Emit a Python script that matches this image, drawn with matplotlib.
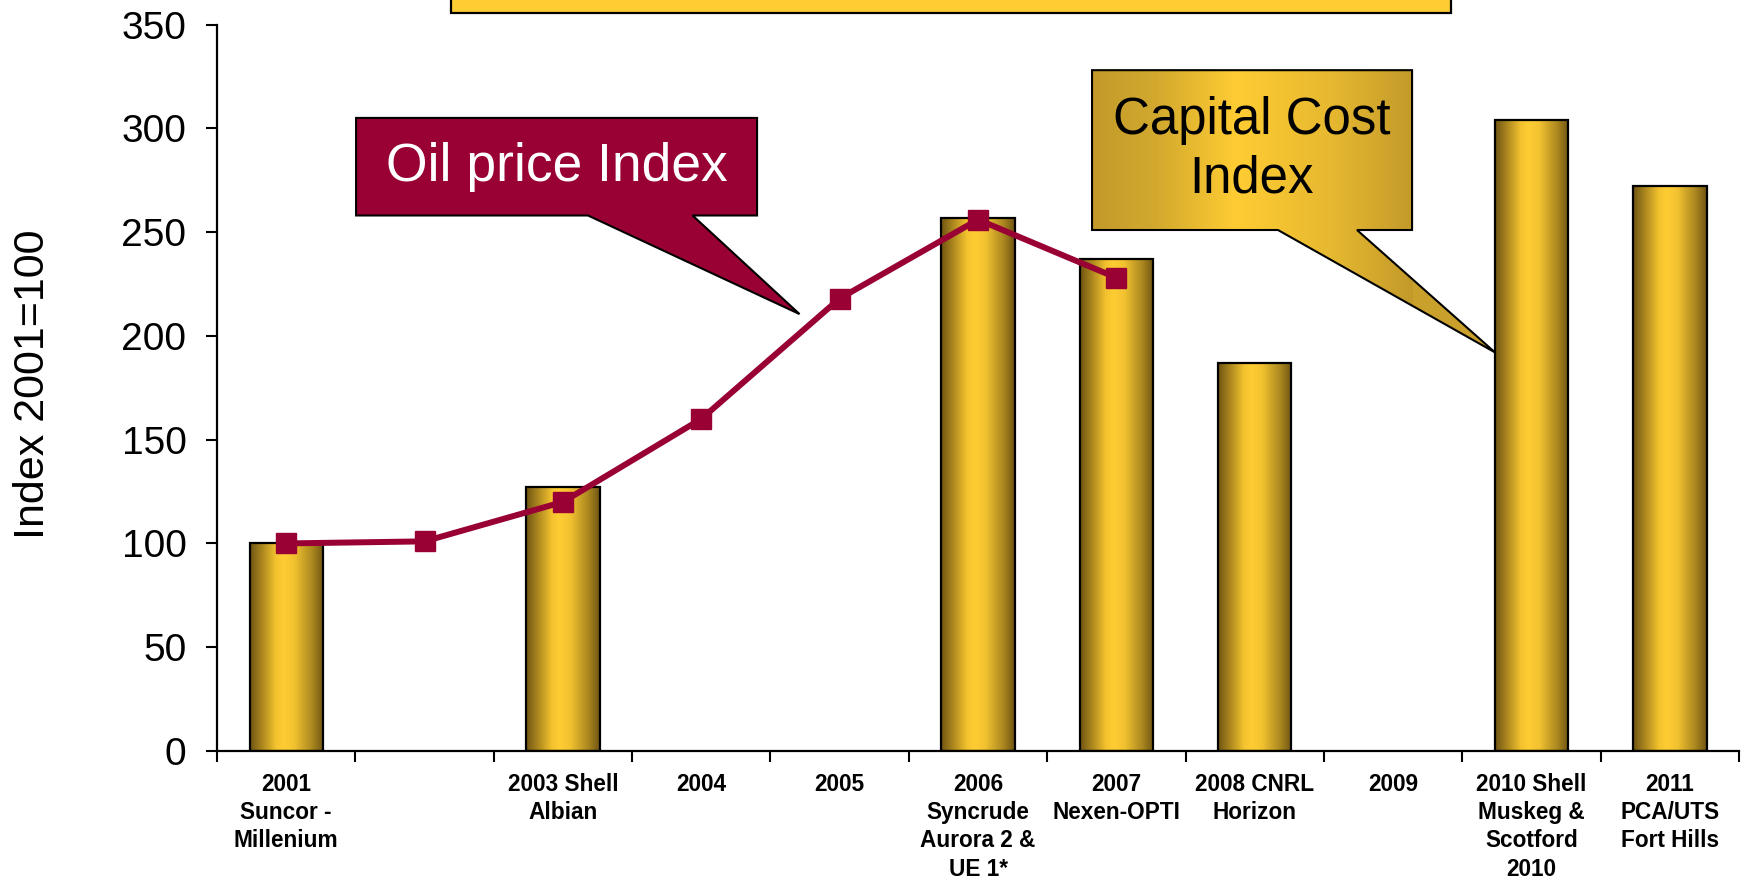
import numpy as np
import matplotlib.pyplot as plt
from matplotlib.colors import LinearSegmentedColormap
from matplotlib.patches import Polygon, Rectangle

plt.rcParams['font.family'] = ['Liberation Sans', 'DejaVu Sans']

# Project labels along the x axis
labels = ["2001\nSuncor -\nMillenium", "", "2003 Shell\nAlbian", "2004", "2005",
          "2006\nSyncrude\nAurora 2 &\nUE 1*", "2007\nNexen-OPTI", "2008 CNRL\nHorizon",
          "2009", "2010 Shell\nMuskeg &\nScotford\n2010", "2011\nPCA/UTS\nFort Hills"]

# Capital cost index per project (nan = no project that year)
capital_cost = [100, np.nan, 127, np.nan, np.nan, 257, 237, 187, np.nan, 304, 272]

# Oil price index 2001-2007
oil_price = [100, 101, 120, 160, 218, 256, 228]

x = np.arange(len(labels))

fig = plt.figure(figsize=(17.46, 8.85), dpi=100)
ax = fig.add_axes([0.1243, 0.1514, 0.8717, 0.8209])

bar_cmap = LinearSegmentedColormap.from_list(
    "gold", [(0.0, "#6f5412"), (0.12, "#9c7a1c"), (0.35, "#f3c22e"),
             (0.45, "#ffcc33"), (0.6, "#f2c230"), (0.85, "#a9861f"), (1.0, "#6f5412")])
box_cmap = LinearSegmentedColormap.from_list(
    "goldbox", [(0.0, "#c39a2a"), (0.2, "#d2a92e"), (0.45, "#ffcc33"),
                (0.75, "#e6b830"), (1.0, "#c39a2a")])
grad = np.linspace(0, 1, 256).reshape(1, -1)

bars = ax.bar(x, capital_cost, width=0.53, color="none", edgecolor="black",
              linewidth=1.6, zorder=3)
for b in bars:
    h = b.get_height()
    if not np.isfinite(h):
        continue
    x0 = b.get_x()
    img = ax.imshow(grad, cmap=bar_cmap, aspect="auto",
                    extent=(x0, x0 + b.get_width(), 0, h), zorder=2)
    img.set_clip_path(b)

ax.plot(x[:len(oil_price)], oil_price, color="#990033", linewidth=4.3,
        marker="s", markersize=14, zorder=4)

ax.set_xlim(-0.5, len(labels) - 0.5)
ax.set_ylim(0, 350)
ax.set_yticks(range(0, 351, 50))
ax.tick_params(axis="y", labelsize=28, length=8, width=1.5, pad=14)

# labels at category centres, tick marks on category boundaries
ax.set_xticks(x)
ax.set_xticklabels(labels, fontsize=16.3, fontweight="bold", linespacing=1.3)
ax.set_xticks(np.arange(-0.5, len(labels)), minor=True)
ax.tick_params(axis="x", which="major", length=0, pad=15.5)
ax.tick_params(axis="x", which="minor", length=8, width=1.5)

for s in ["top", "right"]:
    ax.spines[s].set_visible(False)
for s in ["left", "bottom"]:
    ax.spines[s].set_linewidth(1.6)

fig.text(0.019, 0.566, "Index 2001=100", rotation=90, fontsize=31,
         ha="center", va="center")

# Oil price callout
oil_shape = [(0.505, 305), (3.403, 305), (3.403, 258), (2.937, 258),
             (3.71, 210.5), (2.181, 258), (0.505, 258)]
ax.add_patch(Polygon(oil_shape, closed=True, facecolor="#990033",
                     edgecolor="black", linewidth=1.5, zorder=5, clip_on=False))
ax.text(1.954, 281.5, "Oil price Index", color="white", fontsize=38.4,
        ha="center", va="center", zorder=6)

# Capital cost callout
cap_shape = [(5.824, 328), (8.137, 328), (8.137, 251), (7.739, 251),
             (8.737, 192), (7.168, 251), (5.824, 251)]
cap_poly = Polygon(cap_shape, closed=True, facecolor="none",
                   edgecolor="black", linewidth=1.5, zorder=6)
ax.add_patch(cap_poly)
cap_img = ax.imshow(grad, cmap=box_cmap, aspect="auto",
                    extent=(5.824, 8.137, 192, 328), zorder=5)
cap_img.set_clip_path(cap_poly)
# the tail reaches past the box; fill it with the edge colour of the gradient
ax.add_patch(Polygon(cap_shape[2:6], closed=True, facecolor="#c9a02b",
                     edgecolor="none", zorder=4.9))
ax.text(6.98, 289.5, "Capital Cost\nIndex", color="black", fontsize=36.7,
        ha="center", va="center", linespacing=1.25, zorder=7)

# Title box, cut off at the top edge
fig.patches.append(Rectangle((0.2583, 0.9849), 0.5727, 0.05,
                             transform=fig.transFigure, facecolor="#ffcc33",
                             edgecolor="black", linewidth=1.6))

plt.savefig("out.png", dpi=100)
